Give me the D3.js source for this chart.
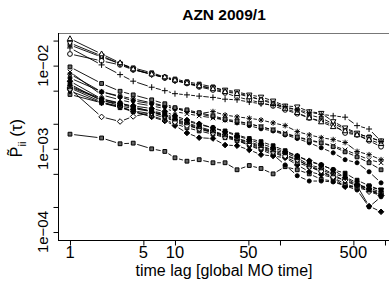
<!DOCTYPE html>
<html>
<head>
<meta charset="utf-8">
<script src="https://cdn.jsdelivr.net/npm/d3@7"></script>
<style>
  body { margin: 0; background: #fff; }
  svg { display: block; font-family: "Liberation Sans", Arial, Helvetica, sans-serif; }
</style>
</head>
<body>
<div id="chart"></div>
<script>
// time lags (global MO time) at which every series was evaluated
var lags = [1,2,3,4,6,8,10,13,17,23,30,39,51,66,86,112,146,190,247,321,417,542,705,917];

// upper band
var seriesPlus = [1.63e-2,1.02e-2,7.8e-3,6.5e-3,5.5e-3,5.0e-3,4.6e-3,4.45e-3,4.3e-3,4.15e-3,3.95e-3,3.88e-3,3.65e-3,3.48e-3,3.38e-3,3.2e-3,2.94e-3,2.75e-3,2.6e-3,2.49e-3,2.4e-3,1.9e-3,1.73e-3,1.23e-3];
var seriesTriUp = [2.1e-2,1.38e-2,1.08e-2,9.1e-3,7.9e-3,7.3e-3,6.7e-3,6.2e-3,5.7e-3,5.25e-3,4.85e-3,4.6e-3,4.2e-3,3.88e-3,3.48e-3,3.05e-3,2.72e-3,2.35e-3,2.1e-3,1.84e-3,1.64e-3,1.47e-3,1.29e-3,1.15e-3];
var seriesTriDown = [1.87e-2,1.31e-2,1.05e-2,9.0e-3,7.8e-3,7.2e-3,6.6e-3,6.2e-3,5.7e-3,5.4e-3,5.1e-3,4.85e-3,4.45e-3,4.2e-3,3.77e-3,3.28e-3,3.2e-3,2.8e-3,2.68e-3,2.13e-3,1.79e-3,1.55e-3,1.36e-3,1.25e-3];
var seriesCircle = [1.38e-2,1.14e-2,1.02e-2,8.9e-3,7.9e-3,7.1e-3,6.6e-3,6.1e-3,5.55e-3,5.1e-3,4.7e-3,4.2e-3,3.88e-3,3.57e-3,3.28e-3,2.94e-3,2.64e-3,2.35e-3,2.16e-3,1.95e-3,1.55e-3,1.47e-3,1.25e-3,1.06e-3];
var seriesSquareTop = [1.77e-2,1.27e-2,1.05e-2,9.4e-3,8.2e-3,7.3e-3,6.9e-3,6.4e-3,6.0e-3,5.55e-3,4.95e-3,4.7e-3,4.3e-3,3.88e-3,3.65e-3,3.12e-3,2.94e-3,2.55e-3,2.35e-3,2.0e-3,1.74e-3,1.5e-3,1.39e-3,1.22e-3];

// middle band
var seriesSquareA = [9.65e-3,6.1e-3,4.92e-3,4.45e-3,3.88e-3,3.48e-3,3.12e-3,2.94e-3,2.72e-3,2.49e-3,2.28e-3,2.16e-3,2.0e-3,1.84e-3,1.69e-3,1.5e-3,1.39e-3,1.25e-3,1.18e-3,1.06e-3,9.2e-4,8.0e-4,6.8e-4,5.6e-4];
var seriesCross = [8.4e-3,4.45e-3,3.88e-3,3.57e-3,3.28e-3,3.05e-3,2.8e-3,2.64e-3,2.49e-3,2.35e-3,2.22e-3,2.1e-3,2.0e-3,1.84e-3,1.69e-3,1.55e-3,1.39e-3,1.29e-3,1.18e-3,1.09e-3,9.7e-4,8.5e-4,7.4e-4,6.8e-4];
var seriesStar = [7.9e-3,4.85e-3,4.3e-3,3.98e-3,3.57e-3,3.28e-3,3.08e-3,2.8e-3,2.65e-3,2.8e-3,2.55e-3,2.42e-3,2.33e-3,2.22e-3,2.05e-3,1.9e-3,1.61e-3,1.47e-3,1.36e-3,1.29e-3,1.19e-3,9.3e-4,8.5e-4,7.4e-4];
var seriesDotA = [7.1e-3,4.85e-3,4.2e-3,3.77e-3,3.48e-3,3.2e-3,3.05e-3,2.86e-3,2.64e-3,2.42e-3,2.22e-3,2.05e-3,1.9e-3,1.74e-3,1.64e-3,1.47e-3,1.33e-3,1.18e-3,1.03e-3,8.95e-4,7.4e-4,6.8e-4,5.3e-4,3.9e-4];
var seriesDiamondA = [6.5e-3,3.98e-3,3.48e-3,3.28e-3,3.05e-3,2.8e-3,2.49e-3,2.22e-3,2.0e-3,1.79e-3,1.6e-3,1.43e-3,1.29e-3,1.15e-3,1.03e-3,9.2e-4,8.2e-4,7.2e-4,6.4e-4,5.6e-4,4.5e-4,3.7e-4,3.3e-4,2.75e-4];
var seriesSquareFilled = [6.0e-3,3.77e-3,3.48e-3,3.12e-3,2.86e-3,2.64e-3,2.35e-3,2.16e-3,1.95e-3,1.79e-3,1.64e-3,1.47e-3,1.33e-3,1.22e-3,1.09e-3,9.5e-4,8.2e-4,7.0e-4,6.4e-4,5.6e-4,5.1e-4,4.2e-4,3.6e-4,3.2e-4];
var seriesSquareCross = [5.55e-3,3.88e-3,3.28e-3,3.05e-3,2.8e-3,2.55e-3,2.28e-3,2.05e-3,1.84e-3,1.64e-3,1.47e-3,1.33e-3,1.22e-3,1.09e-3,9.7e-4,8.95e-4,7.8e-4,6.4e-4,5.9e-4,5.0e-4,4.6e-4,3.9e-4,3.2e-4,2.95e-4];
var seriesDiamondOpen = [5.25e-3,2.42e-3,2.13e-3,2.45e-3,2.72e-3,2.49e-3,2.1e-3,1.9e-3,1.74e-3,1.55e-3,1.39e-3,1.29e-3,1.15e-3,1.03e-3,9.2e-4,8.2e-4,7.4e-4,6.1e-4,5.4e-4,4.6e-4,4.2e-4,3.7e-4,3.05e-4,2.75e-4];
var seriesTriFilled = [4.95e-3,3.57e-3,3.2e-3,2.86e-3,2.64e-3,2.35e-3,2.16e-3,1.95e-3,1.74e-3,1.6e-3,1.43e-3,1.33e-3,1.18e-3,1.06e-3,9.5e-4,8.5e-4,7.4e-4,6.2e-4,5.6e-4,4.9e-4,4.1e-4,3.6e-4,3.5e-4,3.2e-4];
var seriesSquareB = [4.5e-3,3.57e-3,3.12e-3,2.8e-3,2.49e-3,2.22e-3,2.0e-3,1.79e-3,1.64e-3,1.5e-3,1.36e-3,1.25e-3,1.11e-3,1.0e-3,8.95e-4,8.0e-4,6.8e-4,6.1e-4,5.3e-4,4.5e-4,3.8e-4,3.4e-4,3.15e-4,2.8e-4];
var seriesDiamondB = [5.4e-3,3.65e-3,3.2e-3,2.8e-3,2.42e-3,2.16e-3,1.9e-3,1.55e-3,1.36e-3,1.33e-3,1.11e-3,1.09e-3,9.7e-4,8.5e-4,8.2e-4,7.8e-4,6.4e-4,5.3e-4,4.9e-4,4.5e-4,3.5e-4,3.6e-4,2.05e-4,1.75e-4];
var seriesDotB = [5.7e-3,3.98e-3,3.57e-3,3.2e-3,2.8e-3,2.49e-3,2.22e-3,2.0e-3,1.79e-3,1.6e-3,1.43e-3,1.29e-3,1.09e-3,9.7e-4,8.5e-4,6.4e-4,4.75e-4,4.1e-4,4.1e-4,4.0e-4,3.6e-4,3.2e-4,2.0e-4,2.65e-4];

// lowest series
var seriesSquareLow = [1.5e-3,1.35e-3,1.15e-3,1.17e-3,1.0e-3,9.3e-4,7.8e-4,7.1e-4,7.4e-4,6.8e-4,6.8e-4,5.6e-4,6.3e-4,5.8e-4,5.0e-4,6.1e-4,5.6e-4,5.0e-4,4.3e-4,4.1e-4,3.6e-4,3.4e-4,3.4e-4,3.0e-4];

var yTicks = [1e-4, 2e-4, 5e-4, 1e-3, 2e-3, 5e-3, 1e-2, 2e-2];
var yLabels = {"0.0001": "1e\u221204", "0.001": "1e\u221203", "0.01": "1e\u221202"};
var xTicks = [1, 5, 10, 50, 100, 500, 1000];
var xLabels = [1, 5, 10, 50, 500];

var series = [
  {values: seriesSquareLow, shape: "square"},
  {values: seriesDotB, shape: "dot"},
  {values: seriesDiamondB, shape: "diamondFilled"},
  {values: seriesSquareB, shape: "square"},
  {values: seriesTriFilled, shape: "triFilled"},
  {values: seriesDiamondOpen, shape: "diamond"},
  {values: seriesSquareCross, shape: "squareCross"},
  {values: seriesSquareFilled, shape: "squareFilled"},
  {values: seriesDiamondA, shape: "diamondFilled"},
  {values: seriesDotA, shape: "dot"},
  {values: seriesStar, shape: "star"},
  {values: seriesCross, shape: "cross"},
  {values: seriesSquareA, shape: "square"},
  {values: seriesSquareTop, shape: "square"},
  {values: seriesCircle, shape: "circle"},
  {values: seriesTriDown, shape: "triDown"},
  {values: seriesTriUp, shape: "triUp"},
  {values: seriesPlus, shape: "plus"}
];

var width = 389, height = 281;
var plot = {left: 58, right: 390, top: 33, bottom: 240};
var gap = 4.2; // type="b": line stops short of each point

var svg = d3.select("#chart").append("svg")
  .attr("width", width).attr("height", height);

var x = d3.scaleLog()
  .domain([0.769, 1116])
  .range([plot.left, plot.right]);
var y = d3.scaleLog()
  .domain([8.02e-5, 2.466e-2])
  .range([plot.bottom, plot.top]);

// frame
svg.append("line")
  .attr("x1", plot.left).attr("x2", width)
  .attr("y1", plot.top + 0.5).attr("y2", plot.top + 0.5)
  .attr("stroke", "#777").attr("stroke-width", 1);

// axes
var yAxis = d3.axisLeft(y).tickValues(yTicks).tickSize(5).tickFormat("");
var gy = svg.append("g").attr("transform", "translate(" + (plot.left + 0.5) + ",0)").call(yAxis);
var xAxis = d3.axisBottom(x).tickValues(xTicks).tickSize(5).tickFormat("");
var gx = svg.append("g").attr("transform", "translate(0," + (plot.bottom + 0.5) + ")").call(xAxis);
[gx, gy].forEach(function (g) {
  g.select(".domain").attr("stroke", "#000");
  g.selectAll(".tick line").attr("stroke", "#000");
});
gx.select(".domain").attr("d", "M" + plot.left + ",0H" + width);
gy.select(".domain").attr("d", "M0," + plot.top + "V" + plot.bottom);

svg.selectAll(".ylab")
  .data(yTicks.filter(function (d) { return yLabels[String(d)]; }))
  .enter().append("text")
  .attr("transform", function (d) { return "translate(48," + y(d) + ") rotate(-90)"; })
  .attr("text-anchor", "middle")
  .attr("font-size", 15)
  .text(function (d) { return yLabels[String(d)]; });

svg.selectAll(".xlab")
  .data(xLabels)
  .enter().append("text")
  .attr("x", function (d) { return x(d); })
  .attr("y", 258)
  .attr("text-anchor", "middle")
  .attr("font-size", 16.5)
  .text(function (d) { return d; });

// titles
svg.append("text")
  .attr("x", 224).attr("y", 20)
  .attr("text-anchor", "middle")
  .attr("font-size", 15.5)
  .attr("font-weight", "bold")
  .text("AZN 2009/1");

svg.append("text")
  .attr("x", 224).attr("y", 276)
  .attr("text-anchor", "middle")
  .attr("font-size", 16)
  .text("time lag [global MO time]");

var ylab = svg.append("text")
  .attr("transform", "translate(22,138) rotate(-90)")
  .attr("text-anchor", "middle")
  .attr("font-size", 16);
ylab.append("tspan").text("P\u0303");
ylab.append("tspan").attr("font-size", 11).attr("dy", 4).text("ii");
ylab.append("tspan").attr("dy", -4).attr("font-size", 17).text(" (\u03c4)");

// markers
var shapes = {
  circle: {d: d3.symbol(d3.symbolCircle, 18)(), fill: "#fff"},
  dot: {d: d3.symbol(d3.symbolCircle, 13)(), fill: "#000"},
  square: {d: "M-1.9,-1.9H1.9V1.9H-1.9Z", fill: "#666"},
  squareFilled: {d: "M-1.9,-1.9H1.9V1.9H-1.9Z", fill: "#000"},
  squareCross: {d: "M-1.9,-1.9H1.9V1.9H-1.9ZM-1.9,-1.9L1.9,1.9M-1.9,1.9L1.9,-1.9", fill: "#888"},
  triUp: {d: "M0,-3L2.7,1.8L-2.7,1.8Z", fill: "#fff"},
  triDown: {d: "M0,3L2.7,-1.8L-2.7,-1.8Z", fill: "#fff"},
  triFilled: {d: "M0,3L2.7,-1.8L-2.7,-1.8Z", fill: "#000"},
  diamond: {d: "M0,-2.8L2.8,0L0,2.8L-2.8,0Z", fill: "#fff"},
  diamondFilled: {d: "M0,-2.8L2.8,0L0,2.8L-2.8,0Z", fill: "#000"},
  plus: {d: "M-3,0H3M0,-3V3", fill: "none"},
  cross: {d: "M-2.3,-2.3L2.3,2.3M-2.3,2.3L2.3,-2.3", fill: "none"},
  star: {d: "M-2.8,0H2.8M0,-2.8V2.8M-2,-2L2,2M-2,2L2,-2", fill: "none"}
};

series.forEach(function (s) {
  var pts = s.values.map(function (v, i) { return [x(lags[i]), y(v)]; });
  var segs = [];
  for (var i = 1; i < pts.length; i++) {
    var a = pts[i - 1], b = pts[i];
    var dx = b[0] - a[0], dy = b[1] - a[1];
    var len = Math.sqrt(dx * dx + dy * dy);
    if (len <= 2 * gap) continue;
    var ux = dx / len, uy = dy / len;
    segs.push([a[0] + ux * gap, a[1] + uy * gap, b[0] - ux * gap, b[1] - uy * gap]);
  }
  var g = svg.append("g");
  g.selectAll("line").data(segs).enter().append("line")
    .attr("x1", function (d) { return d[0]; })
    .attr("y1", function (d) { return d[1]; })
    .attr("x2", function (d) { return d[2]; })
    .attr("y2", function (d) { return d[3]; })
    .attr("stroke", "#000").attr("stroke-width", 0.9);
  g.selectAll("path").data(pts).enter().append("path")
    .attr("transform", function (d) { return "translate(" + d[0] + "," + d[1] + ")"; })
    .attr("d", shapes[s.shape].d)
    .attr("fill", shapes[s.shape].fill)
    .attr("stroke", "#000").attr("stroke-width", 1);
});
</script>
</body>
</html>
